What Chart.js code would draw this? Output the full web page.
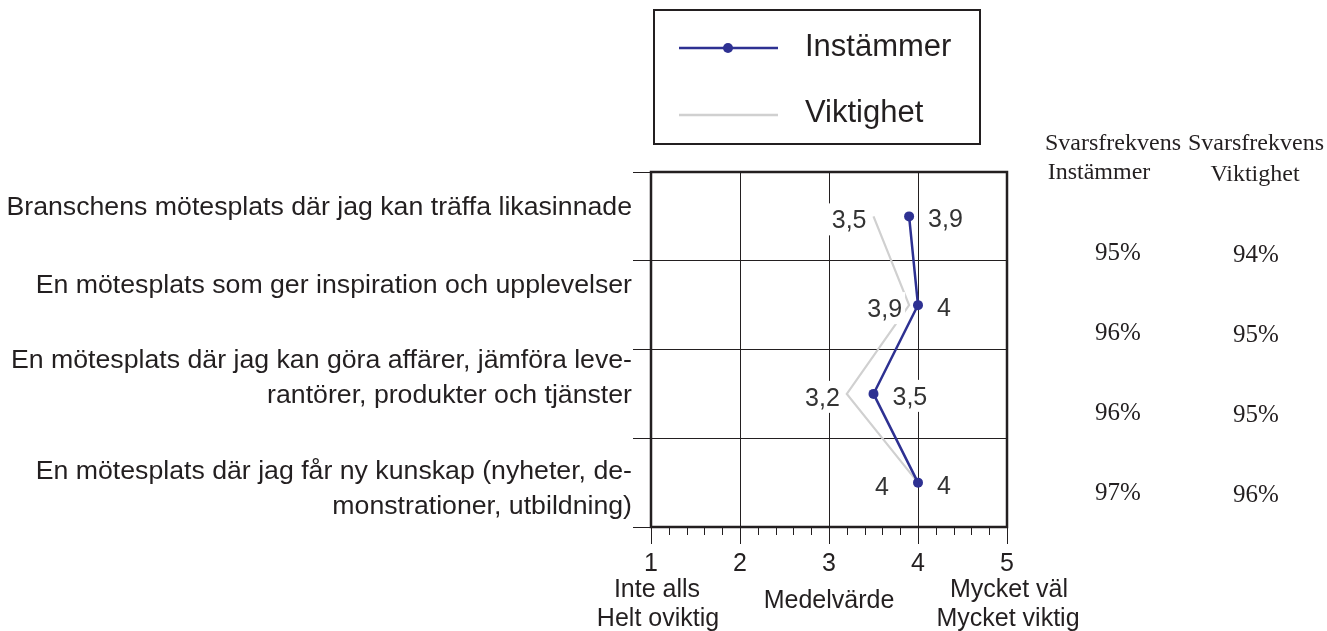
<!DOCTYPE html>
<html lang="sv">
<head>
<meta charset="UTF-8">
<title>Instämmer och Viktighet</title>
<script src="https://cdn.jsdelivr.net/npm/chart.js"></script>
<style>
  body { margin: 0; background: #fff; }
  canvas { display: block; }
</style>
</head>
<body>
<canvas id="chart" width="1327" height="631"></canvas>
<script>
// påståenden (y-axel)
const categories = [
    ['Branschens mötesplats där jag kan träffa likasinnade'],
    ['En mötesplats som ger inspiration och upplevelser'],
    ['En mötesplats där jag kan göra affärer, jämföra leve-', 'rantörer, produkter och tjänster'],
    ['En mötesplats där jag får ny kunskap (nyheter, de-', 'monstrationer, utbildning)']
];
const instammer = [3.9, 4, 3.5, 4];
const viktighet = [3.5, 3.9, 3.2, 4];
const svarInstammer = [95, 96, 96, 97];
const svarViktighet = [94, 95, 95, 96];
const xMin = 1, xMax = 5;

const BLUE = '#2e3192';
const GRAY = '#d0d0d0';
const INK = '#231f20';
const SANS = '"Liberation Sans", Arial, Helvetica, sans-serif';
const SERIF = '"Liberation Serif", "Times New Roman", serif';

Chart.defaults.font.family = SANS;
Chart.defaults.color = INK;

const fmt = v => String(v).replace('.', ',');

const extras = {
    id: 'extras',
    afterDatasetsDraw(chart) {
        const ctx = chart.ctx;
        const area = chart.chartArea;
        const x = chart.scales.x;
        const y = chart.scales.y;
        ctx.save();

        // ram runt diagrammet
        ctx.strokeStyle = INK;
        ctx.lineWidth = 2.5;
        ctx.strokeRect(area.left, area.top, area.right - area.left, area.bottom - area.top);

        // små skalstreck
        ctx.lineWidth = 1;
        for (let i = 1; i < (xMax - xMin) * 5; i++) {
            if (i % 5 === 0) continue;
            const px = Math.round(x.getPixelForValue(xMin + i * 0.2)) + 0.5;
            ctx.beginPath();
            ctx.moveTo(px, area.bottom);
            ctx.lineTo(px, area.bottom + 8);
            ctx.stroke();
        }

        // värdeetiketter
        ctx.font = '25px ' + SANS;
        const label = (txt, px, base, align) => {
            const w = ctx.measureText(txt).width;
            const left = align === 'left' ? px : px - w;
            ctx.fillStyle = '#fff';
            ctx.fillRect(left - 3, base - 25, w + 6, 32);
            ctx.fillStyle = '#333';
            ctx.textAlign = 'left';
            ctx.fillText(txt, left, base);
        };
        ctx.textBaseline = 'alphabetic';
        viktighet.forEach((v, i) => {
            const px = x.getPixelForValue(v);
            const py = y.getPixelForValue(i);
            const gap = v === instammer[i] ? 29 : 7;
            label(fmt(v), px - gap, py + 12, 'right');
        });
        instammer.forEach((v, i) => {
            const px = x.getPixelForValue(v);
            const py = y.getPixelForValue(i);
            label(fmt(v), px + 19, py + 11, 'left');
        });

        // kategorietiketter
        const shift = [-10, -21, -17, 5];
        ctx.fillStyle = INK;
        ctx.font = '26.7px ' + SANS;
        ctx.textAlign = 'right';
        categories.forEach((lines, i) => {
            const mid = y.getPixelForValue(i) + shift[i];
            const lh = 35;
            const top = mid - (lines.length - 1) * lh / 2;
            lines.forEach((t, j) => ctx.fillText(t, area.left - 19, top + j * lh + 9));
        });

        // axeltexter
        ctx.font = '25px ' + SANS;
        ctx.textAlign = 'center';
        ctx.fillText('Inte alls', x.getPixelForValue(xMin) + 6, 597);
        ctx.fillText('Helt oviktig', x.getPixelForValue(xMin) + 7, 626);
        ctx.fillText('Medelvärde', x.getPixelForValue(3), 608);
        ctx.fillText('Mycket väl', x.getPixelForValue(xMax) + 2, 597);
        ctx.fillText('Mycket viktig', x.getPixelForValue(xMax) + 1, 626);

        // svarsfrekvens
        ctx.font = '24px ' + SERIF;
        ctx.fillText('Svarsfrekvens', 1113, 150);
        ctx.fillText('Svarsfrekvens', 1256, 150);
        ctx.fillText('Instämmer', 1099, 179);
        ctx.fillText('Viktighet', 1255, 181);
        ctx.font = '25px ' + SERIF;
        svarInstammer.forEach((v, i) => ctx.fillText(v + '%', 1118, 260 + i * 80));
        svarViktighet.forEach((v, i) => ctx.fillText(v + '%', 1256, 262 + i * 80));

        // förklaring
        ctx.strokeStyle = INK;
        ctx.lineWidth = 2;
        ctx.strokeRect(654, 10, 326, 134);
        ctx.lineWidth = 2.5;
        ctx.strokeStyle = BLUE;
        ctx.beginPath(); ctx.moveTo(679, 48); ctx.lineTo(778, 48); ctx.stroke();
        ctx.fillStyle = BLUE;
        ctx.beginPath(); ctx.arc(728, 48, 5, 0, Math.PI * 2); ctx.fill();
        ctx.strokeStyle = GRAY;
        ctx.beginPath(); ctx.moveTo(679, 115); ctx.lineTo(778, 115); ctx.stroke();
        ctx.fillStyle = INK;
        ctx.font = '31px ' + SANS;
        ctx.textAlign = 'left';
        ctx.fillText(chart.data.datasets[0].label, 805, 56);
        ctx.fillText(chart.data.datasets[1].label, 805, 122);

        ctx.restore();
    }
};

new Chart(document.getElementById('chart'), {
    type: 'line',
    data: {
        labels: categories,
        datasets: [
            {
                label: 'Instämmer',
                data: instammer,
                borderColor: BLUE,
                backgroundColor: BLUE,
                borderWidth: 2.5,
                pointRadius: 5,
                pointBackgroundColor: BLUE,
                pointBorderWidth: 0
            },
            {
                label: 'Viktighet',
                data: viktighet,
                borderColor: GRAY,
                borderWidth: 2.2,
                pointRadius: 0
            }
        ]
    },
    options: {
        indexAxis: 'y',
        responsive: false,
        animation: false,
        layout: { padding: { top: 172, right: 320, bottom: 0, left: 0 } },
        plugins: { legend: { display: false }, tooltip: { enabled: false } },
        scales: {
            x: {
                type: 'linear',
                min: xMin,
                max: xMax,
                ticks: { stepSize: 1, font: { size: 25 }, color: INK, padding: 5 },
                grid: { color: INK, lineWidth: 1, tickLength: 17 },
                border: { display: false },
                afterFit: s => { s.height = 104; }
            },
            y: {
                type: 'category',
                offset: true,
                ticks: { display: false },
                grid: { color: INK, lineWidth: 1, tickLength: 18, offset: true },
                border: { display: false },
                afterFit: s => { s.width = 651; }
            }
        }
    },
    plugins: [extras]
});
</script>
</body>
</html>
